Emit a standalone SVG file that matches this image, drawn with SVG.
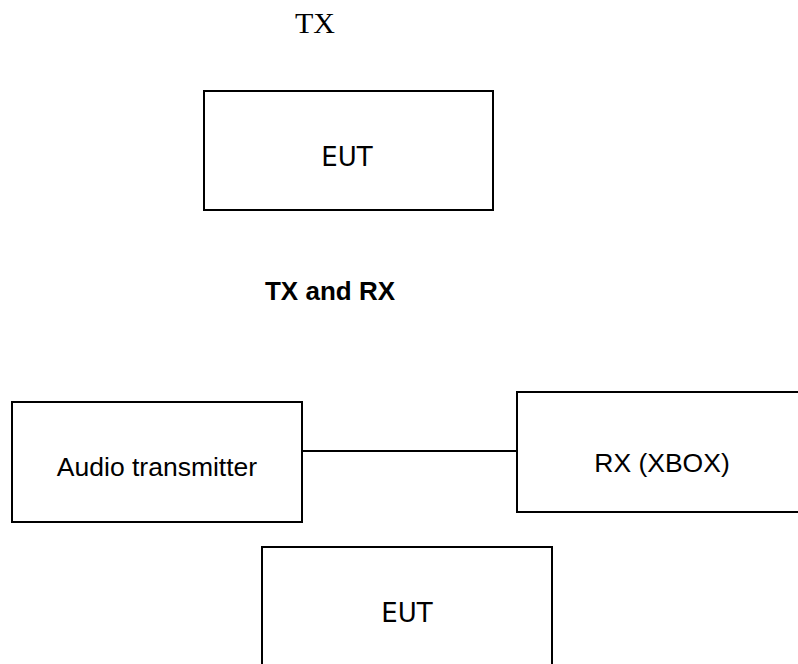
<svg xmlns="http://www.w3.org/2000/svg" width="798" height="664" viewBox="0 0 798 664">
<style>
.box{fill:#fff;stroke:#000;stroke-width:2}
.lbl{font-family:"Liberation Sans",Arial,sans-serif;font-size:26.5px;fill:#000;text-anchor:middle}
.eut{font-family:"DejaVu Sans",sans-serif;font-size:26px;fill:#000;text-anchor:middle}
.conn{stroke:#000;stroke-width:2;fill:none}
</style>
<rect width="798" height="664" fill="#fff"/>
<text x="315" y="33" font-family="Liberation Serif,serif" font-size="30" text-anchor="middle">TX</text>
<text x="330" y="300" font-family="Liberation Sans,Arial,sans-serif" font-size="26" font-weight="bold" text-anchor="middle">TX and RX</text>
<g id="connectors">
<line class="conn" x1="302" y1="451" x2="517" y2="451"/>
</g>
<g id="eut-top">
<rect class="box" x="204" y="91" width="289" height="119"/>
<text class="eut" x="347" y="166">EUT</text>
</g>
<g id="audio-transmitter">
<rect class="box" x="12" y="402" width="290" height="120"/>
<text class="lbl" x="157" y="476">Audio transmitter</text>
</g>
<g id="rx-xbox">
<path class="box" d="M800 392 H517 V512 H800"/>
<text class="lbl" x="662" y="472">RX (XBOX)</text>
</g>
<g id="eut-bottom">
<path class="box" d="M262 666 V547 H552 V666"/>
<text class="eut" x="407" y="622">EUT</text>
</g>
</svg>
